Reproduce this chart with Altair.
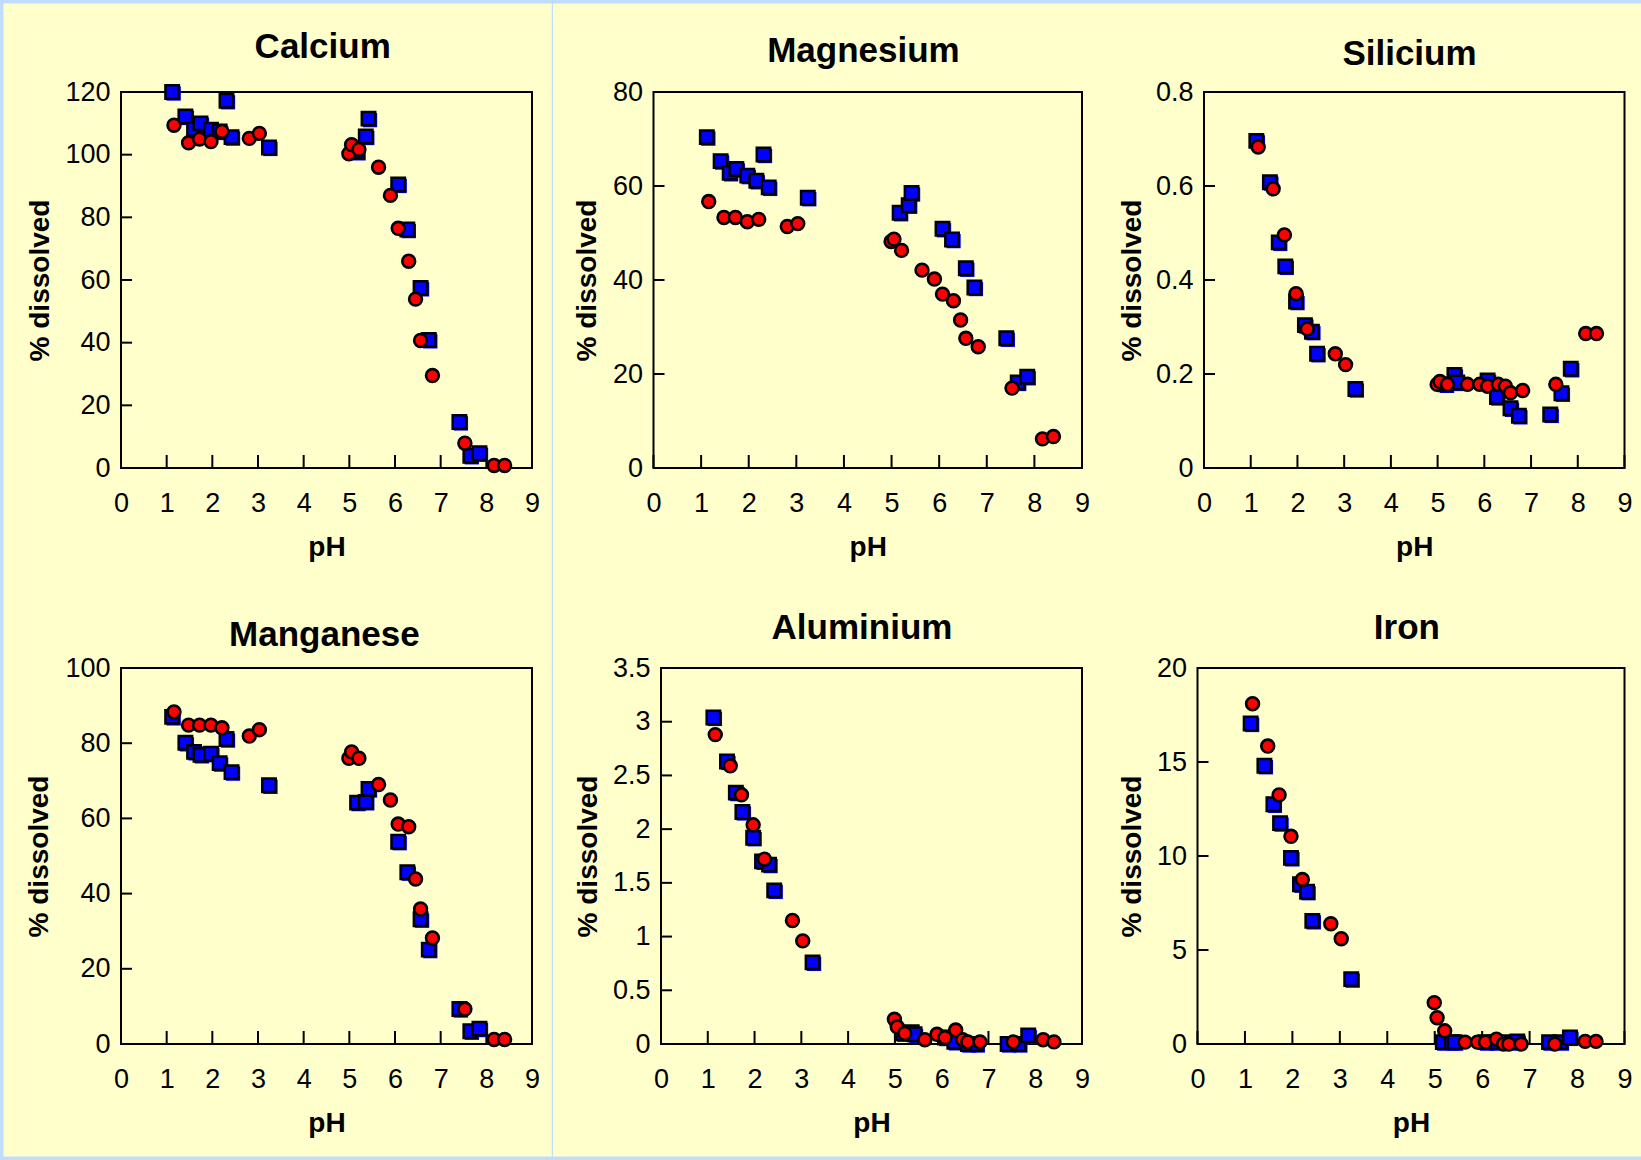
import altair as alt
import pandas as pd

# ---------------- data ----------------
PANELS = ["Calcium", "Magnesium", "Silicium", "Manganese", "Aluminium", "Iron"]

PH_BLUE = [1.12, 1.41, 1.60, 1.74, 1.97, 2.16, 2.31, 2.42, 3.24, 5.17, 5.36, 5.42,
           6.07, 6.27, 6.56, 6.74, 7.41, 7.65, 7.85]
PH_RED = [1.16, 1.48, 1.72, 1.97, 2.21, 2.81, 3.03, 4.99, 5.05, 5.21, 5.64, 5.90,
          6.07, 6.30, 6.45, 6.56, 6.82, 7.53, 8.17, 8.40]

CA_BLUE = [120, 112.2, 108.2, 110, 108, 107.4, 117.2, 105.6, 102.3, 100.9, 105.8, 111.5,
           90.5, 76.1, 57.5, 40.9, 14.7, 3.9, 4.7]
CA_RED = [109.4, 103.8, 105, 104.2, 107.4, 105.2, 106.8, 100.3, 103.2, 101.7, 96, 87,
          76.5, 66, 53.9, 40.7, 29.5, 7.9, 0.8, 0.8]

MG_BLUE = [70.4, 65.3, 62.8, 63.6, 62.2, 61.1, 66.7, 59.7, 57.5, 54.3, 55.9, 58.5,
           50.9, 48.6, 42.5, 38.4, 27.6, 18.2, 19.4]
MG_RED = [56.7, 53.3, 53.3, 52.4, 52.9, 51.4, 52, 48.2, 48.7, 46.3, 42.1, 40.2,
          37, 35.6, 31.5, 27.6, 25.8, 17, 6.2, 6.7]

SI_BLUE = [0.696, 0.608, 0.480, 0.429, 0.354, 0.304, 0.290, 0.243, 0.168, 0.178, 0.198, 0.182,
           0.186, 0.151, 0.127, 0.111, 0.114, 0.159, 0.211]
SI_RED = [0.683, 0.594, 0.496, 0.371, 0.296, 0.243, 0.220, 0.178, 0.184, 0.178, 0.178, 0.178,
          0.174, 0.178, 0.174, 0.160, 0.165, 0.178, 0.286, 0.286]

MN_BLUE = [87.0, 80.1, 77.7, 76.9, 77.2, 74.7, 81.1, 72.3, 68.8, 64.2, 64.4, 67.8,
           53.8, 45.7, 33.2, 25.1, 9.3, 3.4, 4.1]
MN_RED = [88.3, 84.8, 84.8, 84.8, 84.1, 81.9, 83.6, 76.0, 77.7, 76.0, 69.0, 64.9,
          58.5, 57.8, 43.9, 35.9, 28.2, 9.3, 1.2, 1.2]

AL_BLUE = [3.04, 2.63, 2.34, 2.16, 1.92, 1.70, 1.67, 1.43, 0.76, 0.10, 0.11, 0.09,
           0.06, 0.02, 0.0, 0.0, 0.0, 0.0, 0.08]
AL_RED = [2.88, 2.59, 2.32, 2.04, 1.72, 1.15, 0.96, 0.23, 0.16, 0.10, 0.04, 0.09,
          0.06, 0.13, 0.04, 0.02, 0.02, 0.02, 0.04, 0.02]

FE_BLUE = [17.05, 14.8, 12.75, 11.75, 9.9, 8.5, 8.1, 6.55, 3.45, 0.1, 0.1, 0.1,
           0.1, 0.1, 0.1, 0.14, 0.1, 0.1, 0.35]
FE_RED = [18.1, 15.85, 13.25, 11.05, 8.75, 6.4, 5.6, 2.2, 1.4, 0.7, 0.1, 0.1,
          0.1, 0.26, 0.0, 0.0, 0.0, 0.0, 0.14, 0.14]

X_TICKS = [0, 1, 2, 3, 4, 5, 6, 7, 8, 9]
Y_TICKS = {
    "Calcium": [0, 20, 40, 60, 80, 100, 120],
    "Magnesium": [0, 20, 40, 60, 80],
    "Silicium": [0, 0.2, 0.4, 0.6, 0.8],
    "Manganese": [0, 20, 40, 60, 80, 100],
    "Aluminium": [0, 0.5, 1, 1.5, 2, 2.5, 3, 3.5],
    "Iron": [0, 5, 10, 15, 20],
}
SERIES = {
    "Calcium": (CA_BLUE, CA_RED),
    "Magnesium": (MG_BLUE, MG_RED),
    "Silicium": (SI_BLUE, SI_RED),
    "Manganese": (MN_BLUE, MN_RED),
    "Aluminium": (AL_BLUE, AL_RED),
    "Iron": (FE_BLUE, FE_RED),
}

# ---------------- style / layout ----------------
FONT = "Liberation Sans"
BG = "#FFFFCC"
EDGE = "#C0DCFF"
H = 376
# view width, frame left/right inside the view, chart-title position, y-title x
LAYOUT = {
    "Calcium":   dict(w=411,   f0=0,    f1=411,   tx=201.7, ty=-34,   yt=-73),
    "Magnesium": dict(w=428.5, f0=0,    f1=428.5, tx=209.9, ty=-30,   yt=-58.5),
    "Silicium":  dict(w=420.5, f0=0,    f1=420.5, tx=205.5, ty=-27.5, yt=-63.5),
    "Manganese": dict(w=411,   f0=0,    f1=411,   tx=203.4, ty=-22.5, yt=-73.7),
    "Aluminium": dict(w=428.5, f0=7.5,  f1=428.5, tx=208.5, ty=-29,   yt=-65),
    "Iron":      dict(w=420.5, f0=-6.5, f1=420.5, tx=202.9, ty=-29,   yt=-57),
}
PAGE_W, PAGE_H = 1641, 1160
ORIGIN_X, ORIGIN_Y = 121, 92  # first plot's frame corner on the page
LABEL_EXPR = "toString(datum.value)"


def vrect(one, xa, xb, ya, yb, color):
    return alt.Chart(one).mark_rect(fill=color).encode(
        x=alt.value(xa), x2=alt.value(xb), y=alt.value(ya), y2=alt.value(yb))


def panel(name, first=False):
    L = LAYOUT[name]
    f0, f1 = L["f0"], L["f1"]
    blue, red = SERIES[name]
    yticks = Y_TICKS[name]
    xs = alt.Scale(domain=[0, 9], range=[f0, f1], nice=False, zero=False)
    ys = alt.Scale(domain=[0, yticks[-1]], nice=False, zero=False)
    xaxis = alt.Axis(values=X_TICKS, labelExpr=LABEL_EXPR, grid=False, domain=False,
                     ticks=False, tickSize=0, labelPadding=43, labelBaseline="alphabetic",
                     labelFlush=False, labelOverlap=False, labelFont=FONT,
                     labelFontSize=27, labelColor="#000000", zindex=2,
                     title="pH", titleX=(f0 + f1) / 2, titleY=87,
                     titleBaseline="alphabetic", titleAlign="center",
                     titleFont=FONT, titleFontSize=28, titleFontWeight="bold",
                     titleColor="#000000")
    yaxis = alt.Axis(values=yticks, labelExpr=LABEL_EXPR, grid=False, domain=False,
                     ticks=False, tickSize=0, labelPadding=11, labelFlush=False,
                     labelOverlap=False, labelFont=FONT, labelFontSize=27,
                     labelColor="#000000", offset=-f0, zindex=2,
                     title="% dissolved", titleX=L["yt"], titleY=H / 2, titleAngle=270,
                     titleBaseline="alphabetic", titleAlign="center",
                     titleFont=FONT, titleFontSize=28, titleFontWeight="bold",
                     titleColor="#000000")
    X = alt.X("pH:Q", scale=xs, axis=xaxis)
    Y = alt.Y("v:Q", scale=ys, axis=yaxis)
    one = pd.DataFrame({"title": [name]})
    layers = []
    if first:
        x0, y0 = -ORIGIN_X, -ORIGIN_Y
        x1, y1 = PAGE_W - ORIGIN_X, PAGE_H - ORIGIN_Y
        layers.append(vrect(one, x0, x1, y0, y1, BG))
        layers.append(vrect(one, x0, x0 + 3.5, y0, y1, EDGE))
        layers.append(vrect(one, x0, x1, y0, y0 + 3.5, EDGE))
        layers.append(vrect(one, x0, x1, y1 - 3.5, y1, EDGE))
        layers.append(vrect(one, 551.8 - ORIGIN_X, 553.0 - ORIGIN_X, y0, y1, EDGE))
    layers.append(alt.Chart(one).mark_rect(fill="transparent", stroke="#000000",
                                           strokeWidth=2).encode(
        x=alt.value(f0), x2=alt.value(f1), y=alt.value(0), y2=alt.value(H)))
    layers.append(alt.Chart(pd.DataFrame({"pH": X_TICKS})).mark_rule(
        color="#000000", strokeWidth=2).encode(x=X, y=alt.value(H), y2=alt.value(H - 13)))
    layers.append(alt.Chart(pd.DataFrame({"v": yticks})).mark_rule(
        color="#000000", strokeWidth=2).encode(y=Y, x=alt.value(f0), x2=alt.value(f0 + 11)))
    bdf = pd.DataFrame({"pH": PH_BLUE, "v": blue})
    rdf = pd.DataFrame({"pH": PH_RED, "v": red})
    layers.append(alt.Chart(bdf).mark_square(size=205, fill="#0000FF", strokeWidth=0,
                                             opacity=1, xOffset=1.5, yOffset=1.5).encode(x=X, y=Y))
    layers.append(alt.Chart(bdf).mark_square(size=180, fill="#0000FF", stroke="#000000",
                                             strokeWidth=2.5, opacity=1).encode(x=X, y=Y))
    layers.append(alt.Chart(rdf).mark_circle(size=165, fill="#FF0000", stroke="#000000",
                                             strokeWidth=2.6, opacity=1).encode(x=X, y=Y))
    layers.append(alt.Chart(one).mark_text(font=FONT, fontSize=35, fontWeight="bold",
                                           align="center", baseline="alphabetic",
                                           color="#000000").encode(
        x=alt.value(L["tx"]), y=alt.value(L["ty"]), text="title:N"))
    return alt.layer(*layers).properties(width=L["w"], height=H)


charts = [panel(n, first=(i == 0)) for i, n in enumerate(PANELS)]
chart = alt.concat(*charts, columns=3, spacing={"row": 200, "column": 121.5},
                   bounds="flush", align="none").properties(
    padding=0, background=BG
).configure_view(strokeWidth=0)

chart.save("out.html", embed_options={"renderer": "svg", "actions": False})
